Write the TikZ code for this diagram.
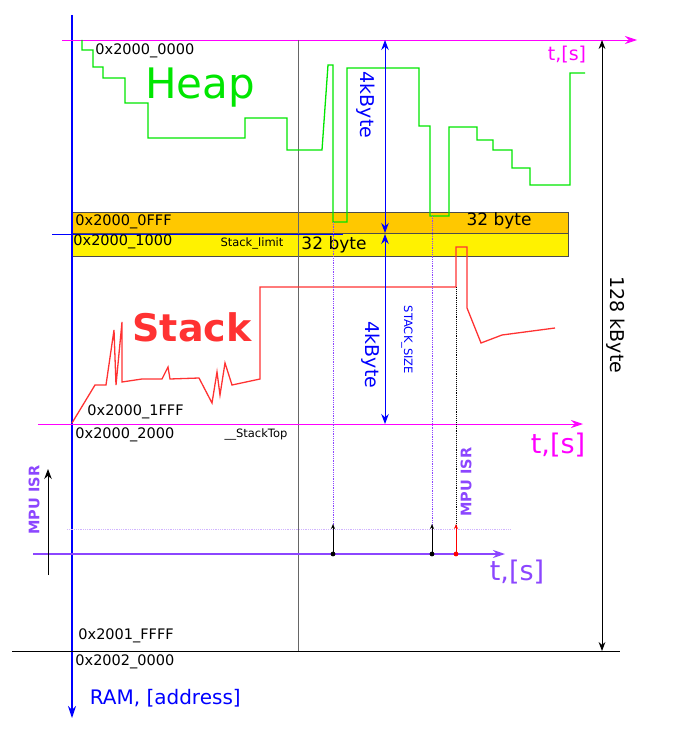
\documentclass[tikz,border=0pt]{standalone}
\usepackage{fontspec}
\setmainfont{DejaVu Sans}
\usetikzlibrary{arrows.meta}
\definecolor{tmag}{RGB}{255,0,255}
\definecolor{isr}{RGB}{140,70,255}
\definecolor{heapg}{RGB}{0,230,0}
\definecolor{stackr}{RGB}{255,50,50}
\definecolor{band}{RGB}{255,200,0}
\tikzset{
  addr/.style={font=\fontsize{14.5}{14.5}\selectfont,anchor=west,inner sep=1pt},
  small/.style={font=\fontsize{11.5}{11.5}\selectfont,inner sep=1pt},
  tip/.style={-{Stealth[length=12pt,width=8pt]}},
  curve/.style={line width=1.3pt}
}
\begin{document}
\begin{tikzpicture}[x=1pt,y=-1pt,line width=0.9pt]
  \useasboundingbox (0,0) rectangle (683,738);
  % bands
  \fill[band,draw=black!70] (72,212) rectangle (568,233);
  \fill[yellow,draw=black!70] (72,233) rectangle (568,256);
  % axes
  \draw[blue,line width=1.3pt,tip] (72,15) -- (72,718);
  \node[blue,anchor=west,font=\fontsize{20}{20}\selectfont] (ram) at (86,698) {RAM, [address]};
  \draw[tmag,tip] (62,40) -- (637,40);
  \node[tmag,font=\fontsize{19}{19}\selectfont] (t1) at (567,55) {t,[s]};
  \draw[black!60] (298,40) -- (298,652);
  \draw (12,651) -- (620,651);
  \draw[{Stealth[length=9pt]}-{Stealth[length=9pt]}] (602,40) -- (602,651);
  \node[rotate=-90,font=\fontsize{19}{19}\selectfont] (kb) at (616,325) {128 kByte};
  \draw[blue] (52,234) -- (343,234);
  \draw[tmag,tip] (38,424) -- (583,424);
  \node[tmag,font=\fontsize{27}{27}\selectfont] (t2) at (558,445) {t,[s]};
  % heap
  \draw[heapg,curve] (82,40) -- (82,50) -- (93,50) -- (93,67) -- (103,67) -- (103,78)
    -- (125,78) -- (125,103) -- (148,103) -- (148,138) -- (245,138) -- (245,118)
    -- (287,118) -- (287,150) -- (322,150) -- (328,65) -- (333,65) -- (333,222)
    -- (347,222) -- (347,68) -- (419,68) -- (419,126) -- (430,126) -- (430,216)
    -- (449,216) -- (449,127) -- (477,127) -- (477,140) -- (493,140) -- (493,150)
    -- (512,150) -- (512,168) -- (530,168) -- (530,185) -- (570,185) -- (570,73) -- (585,73);
  \node[heapg,font=\fontsize{42}{42}\selectfont] (heap) at (200,88) {Heap};
  % stack
  \draw[stackr,curve] (72,423) -- (95,385) -- (106,385) -- (114,330) -- (116,385)
    -- (122,322) -- (122,382) -- (142,379) -- (162,379) -- (168,367) -- (170,379)
    -- (199,378) -- (212,403) -- (217,372) -- (220,395) -- (225,363) -- (232,385)
    -- (260,379) -- (260,287) -- (456,287) -- (456,247) -- (467,247) -- (467,308)
    -- (481,343) -- (502,335) -- (555,328);
  \node[stackr,font=\fontsize{38}{38}\selectfont\bfseries] (stack) at (192,327) {Stack};
  % sizes
  \draw[blue,{Stealth[length=10pt]}-{Stealth[length=10pt]}] (385,40) -- (385,233);
  \draw[blue,{Stealth[length=10pt]}-{Stealth[length=10pt]}] (385,234) -- (385,424);
  \node[blue,rotate=-90,font=\fontsize{19}{19}\selectfont] (kb1) at (366,105) {4kByte};
  \node[blue,rotate=-90,font=\fontsize{19}{19}\selectfont] (kb2) at (371,355) {4kByte};
  \node[blue,rotate=-90,small] (ssize) at (407,340) {STACK\_SIZE};
  % labels
  \node[addr] (a0) at (94,51) {0x2000\_0000};
  \node[addr] (a1) at (74,222) {0x2000\_0FFF};
  \node[addr] (a2) at (72,242) {0x2000\_1000};
  \node[small] (lim) at (252,243) {Stack\_limit};
  \node[font=\fontsize{17}{17}\selectfont] (b1) at (334,245) {32 byte};
  \node[font=\fontsize{17}{17}\selectfont] (b2) at (499,221) {32 byte};
  \node[addr] (a3) at (86,412) {0x2000\_1FFF};
  \node[addr] (a4) at (74,435) {0x2000\_2000};
  \node[small] (top) at (256,434) {\_\_StackTop};
  \node[addr] (a5) at (77,636) {0x2001\_FFFF};
  \node[addr] (a6) at (74,662) {0x2002\_0000};
  % events
  \draw[isr,densely dotted,thick] (333,222) -- (333,529);
  \draw[isr,densely dotted,thick] (432,216) -- (432,529);
  \draw[densely dotted] (456,287) -- (456,529);
  \draw[isr!40,densely dotted,thick] (67,529) -- (510,529);
  \draw[isr,line width=1.3pt,tip] (33,554) -- (505,554);
  \node[isr,font=\fontsize{27}{27}\selectfont] (t3) at (517,572) {t,[s]};
  \draw[-{Stealth[length=10pt]}] (48,575) -- (48,469);
  \node[isr,rotate=90,font=\fontsize{14.5}{14.5}\selectfont\bfseries] (isr1) at (34,500) {MPU ISR};
  \node[isr,rotate=90,font=\fontsize{14.5}{14.5}\selectfont\bfseries] (isr2) at (466,482) {MPU ISR};
  \foreach \x/\c in {333/black,432/black,456/red} {
    \draw[isr!50,-{Stealth[length=5pt,width=4pt]},\c] (\x,554) -- (\x,524);
    \fill[\c] (\x,554) circle (2.4);
  }
\end{tikzpicture}
\end{document}
